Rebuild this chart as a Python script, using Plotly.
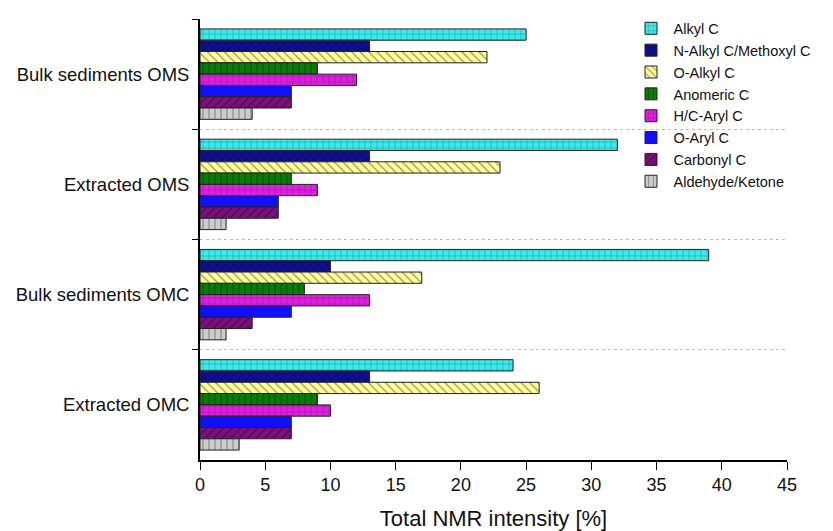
import plotly.graph_objects as go

categories = ["Bulk sediments OMS", "Extracted OMS", "Bulk sediments OMC", "Extracted OMC"]
series_names = ["Alkyl C", "N-Alkyl C/Methoxyl C", "O-Alkyl C", "Anomeric C",
                "H/C-Aryl C", "O-Aryl C", "Carbonyl C", "Aldehyde/Ketone"]
alkyl = [25, 32, 39, 24]
n_alkyl = [13, 13, 10, 13]
o_alkyl = [22, 23, 17, 26]
anomeric = [9, 7, 8, 9]
hc_aryl = [12, 9, 13, 10]
o_aryl = [7, 6, 7, 7]
carbonyl = [7, 6, 4, 7]
aldehyde = [4, 2, 2, 3]
values = [alkyl, n_alkyl, o_alkyl, anomeric, hc_aryl, o_aryl, carbonyl, aldehyde]

colors = ["#3ceaea", "#10108a", "#ffff99", "#0a7a0a", "#e020e0", "#1010ff", "#7a107a", "#cccccc"]
shapes = ["+", "x", "\\", "|", "+", "", "/", "|"]
fgcolors = ["#1a6a6a", "#000050", "#333333", "#003a00", "#701070", "#000000", "#300030", "#555555"]

fig = go.Figure()
for name, vals, c, s, fg in zip(series_names, values, colors, shapes, fgcolors):
    fig.add_trace(go.Bar(
        y=categories, x=vals, name=name, orientation="h",
        marker=dict(color=c, line=dict(color="#222222", width=1),
                    pattern=dict(shape=s, fgcolor=fg, size=6, solidity=0.22)),
    ))

fig.update_layout(
    width=833, height=531,
    margin=dict(l=200, r=46, t=14, b=71),
    plot_bgcolor="white", paper_bgcolor="white",
    barmode="group", bargap=0.18, bargroupgap=0,
    font=dict(family="Liberation Sans, Arial, sans-serif", color="#111111"),
    legend=dict(x=0.73, y=1.015, xanchor="left", yanchor="top",
                bgcolor="rgba(0,0,0,0)", font=dict(size=14.5), tracegroupgap=0,
                itemwidth=35),
    xaxis=dict(range=[0, 45], dtick=5, showline=True, linecolor="black", linewidth=1.5,
               ticks="outside", ticklen=8, tickcolor="black", showgrid=False, zeroline=False,
               tickfont=dict(size=18), automargin=False,
               title=dict(text="Total NMR intensity [%]", font=dict(size=22), standoff=16)),
    yaxis=dict(autorange="reversed", type="category", showline=True, linecolor="black",
               linewidth=1.5, ticks="outside", ticklen=6, tickcolor="black",
               tickson="boundaries", showgrid=True, gridcolor="#bbbbbb", griddash="dot",
               tickfont=dict(size=18.5), ticksuffix=" "),
)

fig.write_html("out.html")
